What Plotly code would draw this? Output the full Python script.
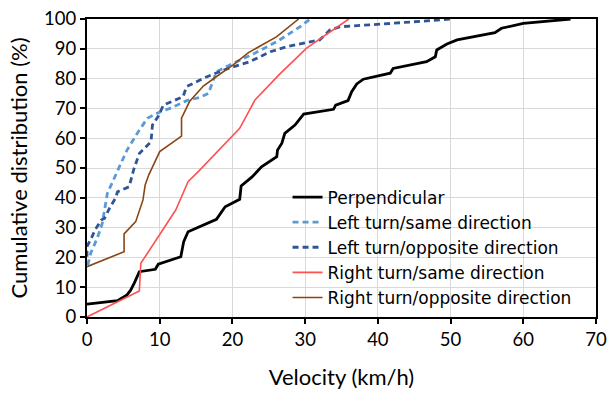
import plotly.graph_objects as go

# Perpendicular
perp_x = [0, 4.2, 5.5, 6, 6.5, 6.9, 7.2, 9.4, 9.8, 12.9, 13.1, 13.3, 13.9, 17.8, 19, 21, 21.2,
          22.7, 24, 26.1, 26.2, 26.8, 27.2, 28.6, 29.8, 33.9, 34.2, 35.9, 36.4, 37.1, 38, 41.7,
          42.1, 46.7, 47.9, 48.1, 49.5, 50.9, 56.1, 57, 60, 66.5]
perp_y = [4.3, 5.5, 7.4, 9, 11.4, 13.5, 15.2, 16, 17.7, 20.2, 23.6, 25.3, 28.6, 32.8, 37, 39.5, 44,
          47, 50.4, 53.8, 56, 58.3, 61.6, 64.4, 68.1, 69.7, 71.1, 72.6, 75.6, 78.2, 79.8, 81.8,
          83.4, 85.7, 87.3, 89.6, 91.6, 93, 95.4, 96.9, 98.5, 100]

# Left turn / same direction
lsame_x = [0.1, 0.5, 1.4, 2.1, 2.8, 4.2, 5.5, 6.9, 8.3, 10.1, 11.4, 13.7, 15.5, 16.7, 17.8, 20.1,
           22.9, 26.1, 29.3, 30.7]
lsame_y = [17.4, 21.4, 26.4, 31.4, 41.5, 49.3, 56, 61.6, 66.7, 68.9, 70, 72.6, 73.7, 75, 82.3, 85.1,
           88.3, 92.4, 97.4, 100]

# Left turn / opposite direction
lopp_x = [0, 0, 0.7, 1.1, 2, 2.4, 3.2, 3.9, 4.2, 5.8, 6.4, 7.2, 8.8, 9, 9.9, 10.5, 13.2, 13.7, 16,
          18.8, 22.4, 25.2, 27.5, 32, 33.4, 34.8, 41.7, 50.2]
lopp_y = [20.2, 23.6, 27, 29.2, 32.6, 33.1, 37, 39.8, 42, 43.7, 49.3, 54.9, 58.8, 64.4, 67.8, 71.1,
          73.9, 77.3, 80.1, 82.9, 85.7, 89, 90.7, 93, 96.3, 97.4, 98.5, 100]

# Right turn / same direction
rsame_x = [0, 7.2, 7.4, 12.2, 13.9, 15.5, 21, 23.1, 26.5, 30.2, 36]
rsame_y = [0, 8.7, 18, 35.9, 45.4, 49.3, 63.3, 72.8, 81.5, 90.2, 100]

# Right turn / opposite direction
ropp_x = [0, 5.1, 5.1, 6.7, 7.7, 8, 8.5, 10, 13, 13, 14.1, 16, 18.1, 20.1, 22.2, 26.1, 29.1]
ropp_y = [16.9, 21.9, 27.9, 32, 39.3, 44.3, 47.7, 55.5, 60.7, 66.7, 72.3, 77.5, 81.2, 84.6, 88.7,
          94.1, 100]

names = ["Perpendicular", "Left turn/same direction", "Left turn/opposite direction",
         "Right turn/same direction", "Right turn/opposite direction"]

FONT = "Lato"
fig = go.Figure()
fig.add_trace(go.Scatter(x=perp_x, y=perp_y, mode="lines", name=names[0],
                         line=dict(color="#000000", width=2.8)))
fig.add_trace(go.Scatter(x=lsame_x, y=lsame_y, mode="lines", name=names[1],
                         line=dict(color="#5B9BD5", width=2.8, dash="6px,4px")))
fig.add_trace(go.Scatter(x=lopp_x, y=lopp_y, mode="lines", name=names[2],
                         line=dict(color="#2F5597", width=2.8, dash="6px,4px")))
fig.add_trace(go.Scatter(x=rsame_x, y=rsame_y, mode="lines", name=names[3],
                         line=dict(color="#FF5050", width=1.6)))
fig.add_trace(go.Scatter(x=ropp_x, y=ropp_y, mode="lines", name=names[4],
                         line=dict(color="#8B4513", width=1.6)))

fig.update_layout(
    width=608, height=394,
    margin=dict(l=87, r=12, t=19, b=77, autoexpand=False),
    paper_bgcolor="white", plot_bgcolor="white",
    font=dict(family=FONT, size=18.5, color="#000000"),
    legend=dict(x=0.394, y=0.005, xanchor="left", yanchor="bottom",
                bgcolor="rgba(0,0,0,0)", font=dict(family="DejaVu Sans", size=17),
                tracegroupgap=0),
    xaxis=dict(range=[0, 70], dtick=10, tick0=0, automargin=False,
               showgrid=True, gridcolor="#D9D9D9", gridwidth=1.3,
               showline=True, linecolor="#000000", linewidth=2, mirror=True,
               ticks="outside", ticklen=5, tickwidth=1.5, tickcolor="#000000",
               zeroline=False,
               title=dict(text="Velocity (km/h)", standoff=20)),
    yaxis=dict(range=[0, 100], dtick=10, tick0=0, automargin=False,
               showgrid=True, gridcolor="#D9D9D9", gridwidth=1.3,
               showline=True, linecolor="#000000", linewidth=2, mirror=True,
               ticks="outside", ticklen=5, tickwidth=1.5, tickcolor="#000000",
               zeroline=False,
               title=dict(text="Cumulative distribution (%)", standoff=10)),
)

fig.write_html("out.html")
